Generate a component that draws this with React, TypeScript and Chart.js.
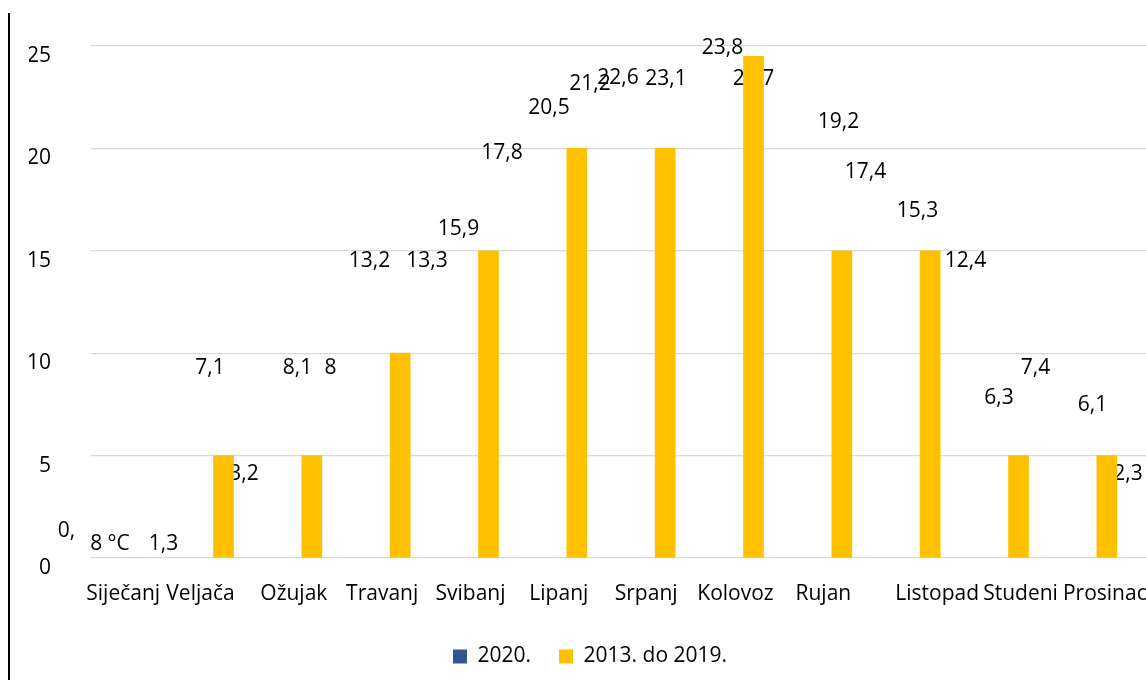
import React, { useEffect, useRef } from 'react';
import { Chart, registerables } from 'chart.js';

Chart.register(...registerables);

// ---- data ----
const MONTHS = ['Siječanj', 'Veljača', 'Ožujak', 'Travanj', 'Svibanj', 'Lipanj', 'Srpanj', 'Kolovoz', 'Rujan', 'Listopad', 'Studeni', 'Prosinac'];
const SERIES_NAMES = ['2020.', '2013. do 2019.'];
const BARS_2020: (number | null)[] = [null, null, null, null, null, null, null, null, null, null, null, null];
const BARS_2013_2019 = [0, 5, 5, 10, 15, 20, 20, 24.5, 15, 15, 5, 5];
const LABELS_2020: (string | string[])[] = [['0,', '8 °C'], '7,1', '8,1', '13,2', '15,9', '20,5', '22,6', '23,8', '19,2', '15,3', '6,3', '6,1'];
const LABELS_2013_2019: (string | string[])[] = ['1,3', '3,2', '8', '13,3', '17,8', '21,2', '23,1', '22,7', '17,4', '12,4', '7,4', '2,3'];
const Y_TICKS = [0, 5, 10, 15, 20, 25];

// ---- layout (label placement: [dx px from category centre, y in axis units] per text line) ----
const LABEL_POS_2020 = [
  [[-68.7, 1.3], [-25.2, 0.67]], [[-13.5, 9.27]], [[-14.3, 9.27]], [[-30.7, 14.49]], [[-30, 16.05]], [[-27.8, 21.98]],
  [[-47.2, 23.42]], [[-31, 24.89]], [[-3.3, 21.29]], [[-12.7, 16.93]], [[-19.5, 7.8]], [[-14.3, 7.46]],
];
const LABEL_POS_2013_2019 = [
  [[28.3, 0.67]], [[20.5, 4.09]], [[18.7, 9.27]], [[26.8, 14.49]], [[13.5, 19.76]], [[13.2, 23.13]],
  [[0.8, 23.37]], [[0, 23.37]], [[23.7, 18.85]], [[35.3, 14.49]], [[17, 9.27]], [[21.2, 4.09]],
];
const X_LABEL_DX = [-12, -23, -18, -18, -18, -18, -19, -18, -18.5, 7, 2, -2];

const FONT_FAMILY = "'Open Sans', sans-serif";
const FONT_SIZE = 21;

const labelsPlugin = {
  id: 'scatteredLabels',
  beforeDatasetsDraw(chart: any) {
    const { ctx } = chart;
    const xs = chart.scales.x;
    const ys = chart.scales.y;
    ctx.save();
    ctx.font = `${FONT_SIZE}px ${FONT_FAMILY}`;
    ctx.fillStyle = '#000';
    ctx.textAlign = 'center';
    ctx.textBaseline = 'middle';
    const drawSet = (texts: (string | string[])[], pos: number[][][]) => {
      texts.forEach((t, i) => {
        const lines = Array.isArray(t) ? t : [t];
        lines.forEach((line, j) => {
          const p = pos[i][j];
          ctx.fillText(line, xs.getPixelForValue(i) + p[0], ys.getPixelForValue(p[1]));
        });
      });
    };
    drawSet(LABELS_2020, LABEL_POS_2020);
    drawSet(LABELS_2013_2019, LABEL_POS_2013_2019);
    ctx.restore();
  },
  afterDraw(chart: any) {
    const { ctx } = chart;
    const xs = chart.scales.x;
    ctx.save();
    ctx.font = `${FONT_SIZE}px ${FONT_FAMILY}`;
    ctx.fillStyle = '#000';
    ctx.textAlign = 'center';
    ctx.textBaseline = 'middle';
    MONTHS.forEach((m, i) => {
      ctx.fillText(m, xs.getPixelForValue(i) + X_LABEL_DX[i], xs.top + 36);
    });
    ctx.restore();
  },
};

export default function App() {
  const canvasRef = useRef<HTMLCanvasElement | null>(null);

  useEffect(() => {
    if (!canvasRef.current) return;
    const chart = new Chart(canvasRef.current, {
      type: 'bar',
      data: {
        labels: MONTHS,
        datasets: [
          { label: SERIES_NAMES[0], data: BARS_2020, backgroundColor: '#2F5597', barThickness: 20, grouped: false } as any,
          { label: SERIES_NAMES[1], data: BARS_2013_2019, backgroundColor: '#FFC000', barThickness: 20, grouped: false } as any,
        ],
      },
      options: {
        animation: false,
        responsive: false,
        layout: { padding: { top: 46, bottom: 3, left: 29, right: 1 } },
        plugins: {
          legend: {
            position: 'bottom',
            labels: {
              boxWidth: 14,
              boxHeight: 14,
              padding: 28,
              color: '#000',
              font: { family: FONT_FAMILY, size: FONT_SIZE },
            },
          },
          tooltip: { enabled: false },
        },
        scales: {
          x: {
            grid: { display: false },
            border: { display: false },
            ticks: { display: false },
            afterFit: (s: any) => { s.height = 60; },
          },
          y: {
            min: 0,
            max: 25,
            afterBuildTicks: (s: any) => { s.ticks = Y_TICKS.map((v) => ({ value: v })); },
            grid: { color: '#D9D9D9', lineWidth: 1.3, drawTicks: false },
            border: { display: false },
            ticks: { padding: 40, labelOffset: 10, color: '#000', font: { family: FONT_FAMILY, size: FONT_SIZE } },
            afterFit: (s: any) => { s.width = 62; s.paddingTop = 0; s.paddingBottom = 0; },
          },
        },
      } as any,
      plugins: [labelsPlugin],
    });
    return () => chart.destroy();
  }, []);

  return (
    <div style={{ position: 'fixed', left: 0, top: 0, width: 1146, height: 680, overflow: 'hidden', background: '#fff' }}>
      <canvas ref={canvasRef} width={1152} height={680} style={{ display: 'block', width: 1152, height: 680 }} />
      <div style={{ position: 'absolute', left: 8, top: 13, width: 2, height: 667, background: '#000' }} />
    </div>
  );
}
